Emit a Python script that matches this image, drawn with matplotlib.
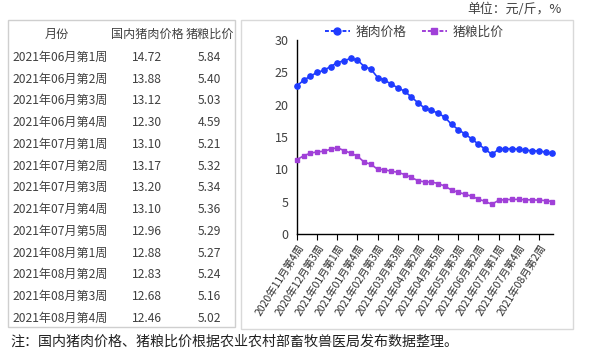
import matplotlib
matplotlib.use("Agg")
import matplotlib.pyplot as plt
from matplotlib.lines import Line2D
from matplotlib.patches import Rectangle

plt.rcParams['font.family'] = ['Noto Sans CJK SC', 'DejaVu Sans']

weeks = [
    "2020年11月第4周", "2020年12月第1周", "2020年12月第2周", "2020年12月第3周",
    "2020年12月第4周", "2020年12月第5周", "2021年01月第1周", "2021年01月第2周",
    "2021年01月第3周", "2021年01月第4周", "2021年02月第1周", "2021年02月第2周",
    "2021年02月第3周", "2021年02月第4周", "2021年03月第2周", "2021年03月第3周",
    "2021年03月第4周", "2021年04月第1周", "2021年04月第2周", "2021年04月第3周",
    "2021年04月第4周", "2021年04月第5周", "2021年05月第1周", "2021年05月第2周",
    "2021年05月第3周", "2021年05月第4周", "2021年06月第1周", "2021年06月第2周",
    "2021年06月第3周", "2021年06月第4周", "2021年07月第1周", "2021年07月第2周",
    "2021年07月第3周", "2021年07月第4周", "2021年07月第5周", "2021年08月第1周",
    "2021年08月第2周", "2021年08月第3周", "2021年08月第4周",
]

pork_price = [
    22.9, 23.8, 24.4, 25.0, 25.3, 25.9, 26.5, 26.8, 27.15, 26.9,
    25.9, 25.5, 24.2, 23.8, 23.2, 22.6, 22.1, 21.2, 20.3, 19.45,
    19.1, 18.7, 18.05, 16.95, 16.15, 15.45,
    14.72, 13.88, 13.12, 12.30, 13.10, 13.17, 13.20, 13.10, 12.96,
    12.88, 12.83, 12.68, 12.46,
]

hog_grain_ratio = [
    11.5, 12.1, 12.5, 12.7, 12.8, 13.1, 13.35, 12.9, 12.5, 12.05,
    11.1, 10.8, 10.0, 9.95, 9.7, 9.55, 9.2, 8.75, 8.25, 8.05,
    8.05, 7.8, 7.4, 6.8, 6.45, 6.15,
    5.84, 5.40, 5.03, 4.59, 5.21, 5.32, 5.34, 5.36, 5.29,
    5.27, 5.24, 5.16, 5.02,
]

table_headers = ["月份", "国内猪肉价格", "猪粮比价"]
table_n = 13

W, H = 591, 356
fig = plt.figure(figsize=(W / 100, H / 100), dpi=100)

def fx(px):
    return px / W

def fy(py):
    return 1 - py / H

text_color = "#404040"
blue = "#1F3BFF"
purple = "#A040D8"

# ---------- table ----------
tx0, tx1, ty0, ty1 = 8, 235, 20, 327
fig.patches.append(Rectangle((fx(tx0), fy(ty1)), fx(tx1 - tx0), (ty1 - ty0) / H,
                             transform=fig.transFigure, fill=False,
                             edgecolor="#CFCFCF", linewidth=1.0))
tax = fig.add_axes([fx(tx0), fy(ty1), fx(tx1 - tx0), (ty1 - ty0) / H])
tax.set_xlim(tx0, tx1)
r_top = (ty0 - 57.3) / 21.75
r_bot = (ty1 - 57.3) / 21.75
tax.set_ylim(r_bot, r_top)
tax.axis("off")
fs_tab = 8.7
hdr_y = -1.06
tax.text(57, hdr_y, table_headers[0], ha="center", va="center", fontsize=fs_tab, color=text_color)
tax.text(147, hdr_y, table_headers[1], ha="center", va="center", fontsize=fs_tab, color=text_color)
tax.text(210, hdr_y, table_headers[2], ha="center", va="center", fontsize=fs_tab, color=text_color)
rows_w = weeks[-table_n:]
rows_p = pork_price[-table_n:]
rows_r = hog_grain_ratio[-table_n:]
for i in range(table_n):
    tax.text(12, i, rows_w[i], ha="left", va="center", fontsize=fs_tab, color=text_color)
    tax.text(147, i, f"{rows_p[i]:.2f}", ha="center", va="center", fontsize=fs_tab, color=text_color)
    tax.text(209, i, f"{rows_r[i]:.2f}", ha="center", va="center", fontsize=fs_tab, color=text_color)

# ---------- chart box ----------
cx0, cx1, cy0, cy1 = 241, 573, 20, 329
fig.patches.append(Rectangle((fx(cx0), fy(cy1)), fx(cx1 - cx0), (cy1 - cy0) / H,
                             transform=fig.transFigure, fill=False,
                             edgecolor="#D9D9D9", linewidth=1.0))

ax_l, ax_r, ax_t, ax_b = 297, 553, 40, 234
ax = fig.add_axes([fx(ax_l), fy(ax_b), fx(ax_r - ax_l), (ax_b - ax_t) / H])
x = list(range(len(weeks)))
ax.plot(x, pork_price, color=blue, marker="o", markersize=3.8, linewidth=1.2, clip_on=False, zorder=3)
ax.plot(x, hog_grain_ratio, color=purple, marker="s", markersize=3.5, linewidth=1.2, clip_on=False, zorder=3)
ax.set_xlim(0, 38.1)
ax.set_ylim(0, 30)
ax.set_yticks([0, 5, 10, 15, 20, 25, 30])
ax.tick_params(axis="y", length=0, labelsize=9, labelcolor=text_color, pad=6)
tick_idx = list(range(0, len(weeks), 3))
ax.set_xticks(tick_idx)
ax.set_xticklabels([weeks[i] for i in tick_idx], rotation=58, ha="right",
                   rotation_mode="anchor", fontsize=7.5, color="#303030")
ax.tick_params(axis="x", length=4, width=0.8, color="black", pad=2)
for s in ["top", "right"]:
    ax.spines[s].set_visible(False)
for s in ["left", "bottom"]:
    ax.spines[s].set_color("black")
    ax.spines[s].set_linewidth(1.0)

handles = [
    Line2D([], [], color=blue, marker="o", markersize=5, linewidth=1.4, linestyle=(0, (2, 1))),
    Line2D([], [], color=purple, marker="s", markersize=5, linewidth=1.4, linestyle=(0, (2, 1))),
]
fig.legend(handles, ["猪肉价格", "猪粮比价"], loc="center", bbox_to_anchor=(fx(414), fy(32)),
           ncol=2, frameon=False, fontsize=9.2, handlelength=2.0, handletextpad=0.4,
           columnspacing=1.2, labelcolor=text_color)

fig.text(fx(562), fy(9), "单位：元/斤，%", ha="right", va="center", fontsize=9.3, color=text_color)
fig.text(fx(10), fy(342), "注：国内猪肉价格、猪粮比价根据农业农村部畜牧兽医局发布数据整理。",
         ha="left", va="center", fontsize=10.1, color="#202020")

fig.savefig("out.png", dpi=100)
